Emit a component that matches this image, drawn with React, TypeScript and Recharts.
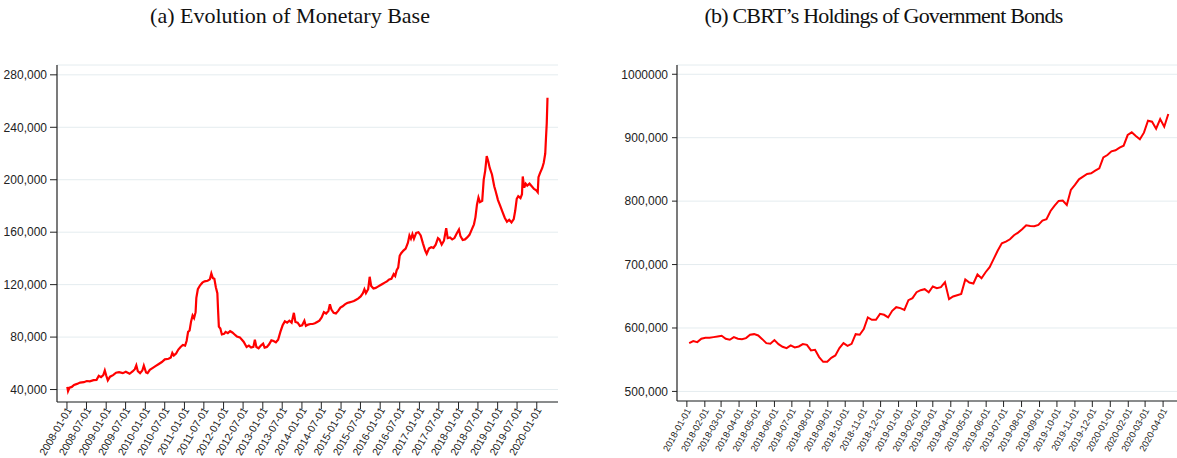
import { LineChart, Line, XAxis, YAxis, CartesianGrid } from 'recharts'

// (a) monetary base, weekly-ish readings (thousand TL)
const MB_DATES = [
  '2008-01-04', '2008-01-11', '2008-01-25', '2008-02-15', '2008-03-07', '2008-04-04', '2008-05-02', '2008-06-06',
  '2008-07-04', '2008-08-01', '2008-09-05', '2008-10-03', '2008-10-24', '2008-11-14', '2008-12-05', '2008-12-19',
  '2009-01-02', '2009-01-16', '2009-02-06', '2009-03-06', '2009-04-03', '2009-05-01', '2009-06-05', '2009-07-03',
  '2009-08-07', '2009-09-04', '2009-09-25', '2009-10-09', '2009-10-23', '2009-11-13', '2009-12-04', '2009-12-18',
  '2010-01-08', '2010-01-22', '2010-02-12', '2010-03-12', '2010-04-09', '2010-05-07', '2010-06-04', '2010-07-02',
  '2010-08-06', '2010-08-27', '2010-09-10', '2010-09-24', '2010-10-15', '2010-11-05', '2010-11-26', '2010-12-17',
  '2011-01-07', '2011-01-21', '2011-02-04', '2011-02-18', '2011-03-04', '2011-03-18', '2011-04-01', '2011-04-15',
  '2011-04-22', '2011-05-06', '2011-05-27', '2011-06-17', '2011-07-08', '2011-08-05', '2011-08-26', '2011-09-09',
  '2011-09-23', '2011-10-07', '2011-10-21', '2011-11-04', '2011-11-11', '2011-11-18', '2011-12-02', '2011-12-16',
  '2012-01-06', '2012-01-20', '2012-02-10', '2012-03-02', '2012-03-23', '2012-04-13', '2012-05-04', '2012-06-01',
  '2012-07-06', '2012-08-03', '2012-08-24', '2012-09-14', '2012-10-05', '2012-10-19', '2012-11-02', '2012-11-23',
  '2012-12-14', '2013-01-04', '2013-01-18', '2013-02-08', '2013-03-01', '2013-03-22', '2013-04-12', '2013-05-03',
  '2013-05-24', '2013-06-14', '2013-07-05', '2013-07-26', '2013-08-16', '2013-09-06', '2013-09-27', '2013-10-18',
  '2013-11-01', '2013-11-22', '2013-12-13', '2014-01-03', '2014-01-24', '2014-02-07', '2014-02-28', '2014-03-21',
  '2014-04-11', '2014-05-02', '2014-05-23', '2014-06-13', '2014-07-04', '2014-07-25', '2014-08-15', '2014-09-05',
  '2014-09-19', '2014-10-03', '2014-10-24', '2014-11-14', '2014-12-05', '2014-12-26', '2015-01-16', '2015-02-06',
  '2015-02-27', '2015-03-20', '2015-04-10', '2015-05-01', '2015-05-22', '2015-06-12', '2015-07-03', '2015-07-24',
  '2015-08-07', '2015-08-21', '2015-09-11', '2015-09-25', '2015-10-09', '2015-10-30', '2015-11-20', '2015-12-11',
  '2016-01-01', '2016-01-22', '2016-02-12', '2016-03-04', '2016-03-25', '2016-04-15', '2016-05-06', '2016-05-20',
  '2016-06-03', '2016-06-17', '2016-07-01', '2016-07-15', '2016-08-05', '2016-08-26', '2016-09-16', '2016-09-30',
  '2016-10-14', '2016-10-28', '2016-11-11', '2016-12-02', '2016-12-23', '2017-01-13', '2017-02-03', '2017-02-24',
  '2017-03-10', '2017-03-31', '2017-04-21', '2017-05-12', '2017-06-02', '2017-06-23', '2017-07-07', '2017-07-28',
  '2017-08-18', '2017-09-08', '2017-09-22', '2017-10-13', '2017-11-03', '2017-11-24', '2017-12-15', '2018-01-05',
  '2018-01-19', '2018-02-09', '2018-03-02', '2018-03-23', '2018-04-13', '2018-05-04', '2018-05-25', '2018-06-08',
  '2018-06-22', '2018-07-06', '2018-07-20', '2018-08-10', '2018-08-24', '2018-09-07', '2018-09-21', '2018-10-05',
  '2018-10-19', '2018-11-09', '2018-11-30', '2018-12-14', '2019-01-04', '2019-01-25', '2019-02-15', '2019-03-08',
  '2019-03-29', '2019-04-19', '2019-05-10', '2019-05-31', '2019-06-14', '2019-06-28', '2019-07-12', '2019-08-02',
  '2019-08-16', '2019-08-23', '2019-09-06', '2019-09-20', '2019-10-04', '2019-10-25', '2019-11-15', '2019-12-06',
  '2019-12-27', '2020-01-10', '2020-01-17', '2020-01-31', '2020-02-21', '2020-03-06', '2020-03-20', '2020-03-27',
  '2020-04-03', '2020-04-10',
]
const MB_VALUES = [
  42000, 38800, 41500, 42000, 43500, 44300, 45300, 45600,
  46500, 46300, 47200, 47400, 50500, 49500, 51000, 54500,
  50500, 47000, 49800, 51000, 52800, 53200, 52500, 53500,
  52000, 53800, 55500, 58500, 54000, 52500, 54500, 58200,
  53000, 52500, 55000, 56500, 58000, 59500, 61000, 63000,
  63500, 64500, 68000, 66000, 67500, 70500, 72500, 74000,
  73500, 77000, 84000, 85000, 92000, 96500, 94500, 99000,
  110000, 116500, 119500, 121500, 122500, 123000, 124000, 128500,
  125000, 124500, 118000, 113500, 100000, 88000, 86500, 82000,
  82500, 84000, 83000, 84500, 83500, 82000, 80500, 79800,
  76500, 72500, 73500, 72000, 72500, 78000, 72500, 71500,
  73500, 75000, 72000, 72500, 74500, 77500, 77000, 76000,
  78000, 84000, 89000, 92000, 91000, 92500, 91000, 98500,
  91500, 91000, 88500, 89000, 92500, 88500, 89500, 90000,
  90000, 90500, 91500, 92500, 95000, 99000, 98000, 100000,
  105000, 101000, 98500, 98000, 100000, 102500, 103500, 105000,
  106000, 106500, 107000, 107500, 108500, 109500, 111000, 113500,
  116500, 113500, 116500, 126000, 119000, 117000, 117500, 118500,
  119500, 120500, 121500, 122500, 124000, 124500, 128000, 126500,
  131000, 133000, 142000, 144000, 146000, 147500, 152000, 157500,
  155000, 158500, 155000, 159500, 160000, 157500, 151500, 146000,
  143500, 147500, 148500, 148000, 150500, 155500, 154500, 150500,
  153500, 163000, 155500, 156000, 154500, 155500, 159000, 162000,
  157000, 154000, 154500, 156000, 158000, 162000, 166000, 171500,
  181000, 186500, 183000, 184000, 200000, 207000, 218000, 214000,
  209000, 204000, 195000, 191000, 184500, 180000, 175500, 171000,
  168000, 169500, 167500, 170000, 176500, 185500, 187500, 186000,
  189000, 202500, 194000, 197000, 195500, 197000, 195000, 193000,
  192000, 190500, 202000, 205000, 209000, 213000, 220000, 232000,
  243000, 262500,
]
const MB_X_TICKS = [
  '2008-01-01', '2008-07-01', '2009-01-01', '2009-07-01', '2010-01-01', '2010-07-01', '2011-01-01',
  '2011-07-01', '2012-01-01', '2012-07-01', '2013-01-01', '2013-07-01', '2014-01-01', '2014-07-01',
  '2015-01-01', '2015-07-01', '2016-01-01', '2016-07-01', '2017-01-01', '2017-07-01', '2018-01-01',
  '2018-07-01', '2019-01-01', '2019-07-01', '2020-01-01',
]
const MB_Y_TICKS = [40000, 80000, 120000, 160000, 200000, 240000, 280000]
const MB_Y_LABELS = ['40,000', '80,000', '120,000', '160,000', '200,000', '240,000', '280,000']

// (b) CBRT government bond holdings, weekly from first Friday of 2018
const GB_START = '2018-01-05'
const GB_VALUES = [
  576100, 579300, 577700, 583000, 584500, 584500, 585600, 586600, 587700, 583000,
  581400, 585600, 583000, 582400, 584000, 589300, 590300, 588200, 582400, 576100,
  575100, 580900, 574600, 570400, 568300, 572500, 569300, 570900, 574600, 573500,
  564600, 565600, 554100, 546700, 546700, 553000, 556700, 568300, 576100, 571900,
  575100, 590300, 589300, 598200, 616600, 612900, 612900, 622300, 620800, 616600,
  627100, 632800, 631300, 628600, 643800, 647000, 656400, 659600, 661200, 656400,
  665400, 662700, 664300, 672200, 645400, 649600, 651700, 653800, 676400, 671700,
  670100, 684300, 678500, 687900, 695800, 708900, 722100, 733600, 736200, 739900,
  746200, 750400, 755700, 762000, 760900, 760400, 762500, 769300, 771400, 784500,
  792900, 800300, 800800, 794000, 817600, 825500, 834400, 838600, 842800, 843800,
  848000, 851700, 869000, 872700, 878500, 880100, 884300, 887400, 904200, 908400,
  902600, 897400, 907900, 926800, 925200, 914200, 929400, 917300, 937300,
]
const GB_X_TICKS = [
  '2018-01-01', '2018-02-01', '2018-03-01', '2018-04-01', '2018-05-01', '2018-06-01', '2018-07-01',
  '2018-08-01', '2018-09-01', '2018-10-01', '2018-11-01', '2018-12-01', '2019-01-01', '2019-02-01',
  '2019-03-01', '2019-04-01', '2019-05-01', '2019-06-01', '2019-07-01', '2019-08-01', '2019-09-01',
  '2019-10-01', '2019-11-01', '2019-12-01', '2020-01-01', '2020-02-01', '2020-03-01', '2020-04-01',
]
const GB_Y_TICKS = [500000, 600000, 700000, 800000, 900000, 1000000]
const GB_Y_LABELS = ['500,000', '600,000', '700,000', '800,000', '900,000', '1000000']

const DAY = 86400000
const toTs = (s: string) => Date.parse(s + 'T00:00:00Z')
const fmtDate = (ts: number) => new Date(ts).toISOString().slice(0, 10)

const mbData = MB_DATES.map((d, i) => ({ t: toTs(d), v: MB_VALUES[i] }))
const gbData = GB_VALUES.map((v, i) => ({ t: toTs(GB_START) + i * 7 * DAY, v }))

const SANS = '"Liberation Sans", Arial, Helvetica, sans-serif'
const INK = '#222'
const GRID = '#e4ecef'

function DateTick({ x, y, payload, fontSize, angle, dx, shift }: any) {
  return (
    <g transform={`translate(${x + dx},${y + shift})`}>
      <text x={0} y={0} dy="0.35em" textAnchor="end" transform={`rotate(${angle})`}
        fontSize={fontSize} fill={INK} fontFamily={SANS}>
        {fmtDate(payload.value)}
      </text>
    </g>
  )
}

const titleStyle: React.CSSProperties = {
  position: 'absolute', top: 2, textAlign: 'center', fontFamily: '"Liberation Serif", "DejaVu Serif", serif',
  fontSize: 22, lineHeight: '28px', color: '#111',
}

export default function App() {
  return (
    <div style={{ position: 'absolute', left: 0, top: 0, width: 1177, height: 458, background: '#fff', overflow: 'hidden' }}>
      <div style={{ ...titleStyle, left: 0, width: 580 }}>(a) Evolution of Monetary Base</div>
      <div style={{ ...titleStyle, left: 590, width: 587, letterSpacing: -0.8 }}>(b) CBRT’s Holdings of Government Bonds</div>

      <div style={{ position: 'absolute', left: 0, top: 0 }}>
        <LineChart width={580} height={458} data={mbData} margin={{ top: 65, right: 22, bottom: 0, left: 0 }}>
          <CartesianGrid vertical={false} stroke={GRID} strokeWidth={1} />
          <XAxis dataKey="t" type="number" domain={[toTs('2007-09-30'), toTs('2020-07-17')]} allowDataOverflow
            ticks={MB_X_TICKS.map(toTs)} interval={0} height={56} tickSize={7} tickMargin={1}
            axisLine={{ stroke: INK, strokeWidth: 1.2 }} tickLine={{ stroke: INK, strokeWidth: 1 }}
            tick={(p: any) => <DateTick {...p} fontSize={10.5} angle={-60} dx={2} shift={-2} />} />
          <YAxis type="number" domain={[30500, 287500]} allowDataOverflow ticks={MB_Y_TICKS} interval={0}
            width={57} tickSize={7} tickMargin={3}
            tickFormatter={(v: number) => MB_Y_LABELS[MB_Y_TICKS.indexOf(v)]}
            axisLine={{ stroke: INK, strokeWidth: 1.2 }} tickLine={{ stroke: INK, strokeWidth: 1 }}
            tick={{ fontSize: 12, fill: INK, fontFamily: SANS }} />
          <Line dataKey="v" type="linear" stroke="#ff0000" strokeWidth={2.2} dot={false} isAnimationActive={false} />
        </LineChart>
      </div>

      <div style={{ position: 'absolute', left: 590, top: 0 }}>
        <LineChart width={587} height={458} data={gbData} margin={{ top: 65, right: 0, bottom: 0, left: 0 }}>
          <CartesianGrid vertical={false} stroke={GRID} strokeWidth={1} />
          <XAxis dataKey="t" type="number" domain={[toTs('2017-12-15'), toTs('2020-04-25')]} allowDataOverflow
            ticks={GB_X_TICKS.map(toTs)} interval={0} height={57} tickSize={6} tickMargin={1}
            axisLine={{ stroke: INK, strokeWidth: 1.2 }} tickLine={{ stroke: INK, strokeWidth: 1 }}
            tick={(p: any) => <DateTick {...p} fontSize={9.3} angle={-61} dx={1.5} shift={1} />} />
          <YAxis type="number" domain={[484900, 1014600]} allowDataOverflow ticks={GB_Y_TICKS} interval={0}
            width={87} tickSize={5} tickMargin={4}
            tickFormatter={(v: number) => GB_Y_LABELS[GB_Y_TICKS.indexOf(v)]}
            axisLine={{ stroke: INK, strokeWidth: 1.2 }} tickLine={{ stroke: INK, strokeWidth: 1 }}
            tick={{ fontSize: 12, fill: INK, fontFamily: SANS }} />
          <Line dataKey="v" type="linear" stroke="#ff0000" strokeWidth={2} dot={false} isAnimationActive={false} />
        </LineChart>
      </div>
    </div>
  )
}
